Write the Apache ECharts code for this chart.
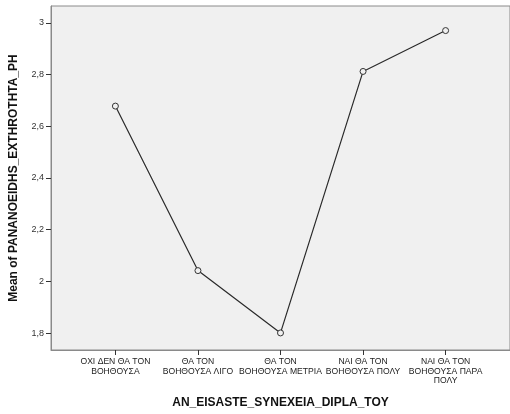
<!DOCTYPE html>
<html><head><meta charset="utf-8">
<script src="https://cdn.jsdelivr.net/npm/echarts@6/dist/echarts.min.js"></script>
<style>html,body{margin:0;padding:0;background:#fff}#c{width:510px;height:414px}</style>
</head><body><div id="c"></div>
<script>
const categories = ["ΟΧΙ ΔΕΝ ΘΑ ΤΟΝ\nΒΟΗΘΟΥΣΑ", "ΘΑ ΤΟΝ\nΒΟΗΘΟΥΣΑ ΛΙΓΟ", "ΘΑ ΤΟΝ\nΒΟΗΘΟΥΣΑ ΜΕΤΡΙΑ", "ΝΑΙ ΘΑ ΤΟΝ\nΒΟΗΘΟΥΣΑ ΠΟΛΥ", "ΝΑΙ ΘΑ ΤΟΝ\nΒΟΗΘΟΥΣΑ ΠΑΡΑ\nΠΟΛΥ"];
const meanValues = [2.678, 2.042, 1.801, 2.812, 2.970];
const yTicks = [1.8, 2.0, 2.2, 2.4, 2.6, 2.8, 3.0];
const xTicks = [0, 1, 2, 3, 4];

const chart = echarts.init(document.getElementById('c'));
chart.setOption({
  animation: false,
  grid: {left: 47, top: 6, right: -5, bottom: 62, show: true, backgroundColor: '#f0f0f0', borderColor: '#8a8a8a', borderWidth: 1},
  xAxis: {
    type: 'value', min: -0.78, max: 4.78,
    name: 'AN_EISASTE_SYNEXEIA_DIPLA_TOY', nameLocation: 'middle', nameGap: 47,
    nameTextStyle: {fontFamily: 'Liberation Sans', fontWeight: 'bold', fontSize: 12, color: '#111'},
    axisLine: {show: true, onZero: false, lineStyle: {color: '#8a8a8a', width: 1}},
    splitLine: {show: false},
    axisTick: {show: true, length: 5, inside: false, customValues: xTicks, lineStyle: {color: '#333', width: 1}},
    axisLabel: {customValues: xTicks, margin: 7, fontFamily: 'Liberation Sans', fontSize: 8.6, color: '#222', lineHeight: 9.5,
      formatter: v => categories[Math.round(v)] || ''}
  },
  yAxis: {
    type: 'value', min: 1.735, max: 3.065,
    name: 'Mean of PANANOEIDHS_EXTHROTHTA_PH', nameLocation: 'middle', nameGap: 31,
    nameTextStyle: {fontFamily: 'Liberation Sans', fontWeight: 'bold', fontSize: 12, color: '#111'},
    axisLine: {show: true, onZero: false, lineStyle: {color: '#8a8a8a', width: 1}},
    splitLine: {show: false},
    axisTick: {show: true, length: 5, inside: false, customValues: yTicks, lineStyle: {color: '#333', width: 1}},
    axisLabel: {customValues: yTicks, inside: false, margin: 7, fontFamily: 'Liberation Sans', fontSize: 9, color: '#333',
      formatter: v => (Math.round(v * 10) / 10).toString().replace('.', ',')}
  },
  series: [{
    type: 'line',
    data: meanValues.map((v, i) => [xTicks[i], v]),
    symbol: 'circle', symbolSize: 6,
    itemStyle: {color: '#f0f0f0', borderColor: '#333', borderWidth: 1},
    lineStyle: {color: '#2a2a2a', width: 1.2}
  }]
});
</script></body></html>
